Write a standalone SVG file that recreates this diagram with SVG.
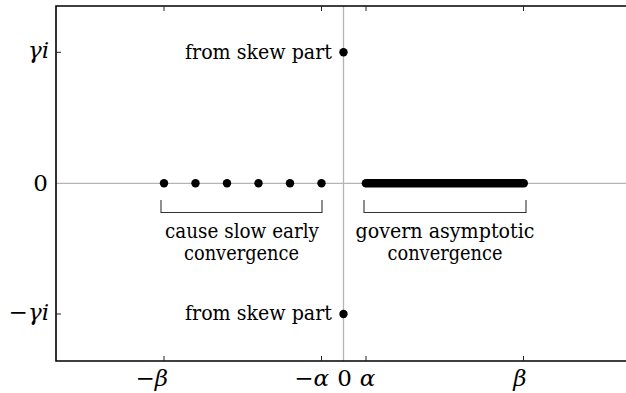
<svg xmlns="http://www.w3.org/2000/svg" width="626" height="393" viewBox="0 0 626 393">
<style>
text{font-family:'DejaVu Serif',serif;font-size:21px;fill:#000}
.m{font-size:23px;font-style:italic}
.n{font-size:23px}
.grid{stroke:#b4b4b4;stroke-width:1.3;fill:none}
.ax{stroke:#000;stroke-width:1.6;fill:none}
.tick{stroke:#222;stroke-width:1;fill:none}
.br{stroke:#333;stroke-width:1.1;fill:none}
.dot{fill:#000}
</style>
<rect x="0" y="0" width="626" height="393" fill="#fff"/>
<g id="grid">
<line class="grid" x1="56" y1="183.3" x2="626" y2="183.3"/>
<line class="grid" x1="343.5" y1="6" x2="343.5" y2="361"/>
</g>
<g id="axes">
<path class="ax" d="M626,6 H56 V361 H626"/>
<path class="tick" d="M164,361 v-5 M321.5,361 v-5 M366,361 v-5 M523.5,361 v-5 M164,6 v5 M321.5,6 v5 M366,6 v5 M523.5,6 v5 M56,52.3 h5 M56,314 h5"/>
</g>
<g id="ylabels">
<text class="m" x="49" y="57.5" text-anchor="end">γi</text>
<text class="n" x="48" y="191" text-anchor="end">0</text>
<text class="m" x="49" y="319.5" text-anchor="end"><tspan font-style="normal">−</tspan>γi</text>
</g>
<g id="xlabels">
<text class="m" x="168" y="385.5" text-anchor="end"><tspan font-style="normal">−</tspan>β</text>
<text class="m" x="329" y="385.5" text-anchor="end"><tspan font-style="normal">−</tspan>α</text>
<text class="n" x="344.5" y="385.5" text-anchor="middle">0</text>
<text class="m" x="367.5" y="385.5" text-anchor="middle">α</text>
<text class="m" x="520" y="385.5" text-anchor="middle">β</text>
</g>
<g id="skew-top">
<circle class="dot" cx="343.5" cy="52.3" r="4.2"/>
<text x="332" y="58.5" text-anchor="end" textLength="147" lengthAdjust="spacingAndGlyphs">from skew part</text>
</g>
<g id="skew-bottom">
<circle class="dot" cx="343.5" cy="314" r="4.2"/>
<text x="332" y="320" text-anchor="end" textLength="147" lengthAdjust="spacingAndGlyphs">from skew part</text>
</g>
<g id="slow-eigs">
<circle class="dot" cx="164" cy="183.3" r="4.2"/>
<circle class="dot" cx="195.5" cy="183.3" r="4.2"/>
<circle class="dot" cx="227" cy="183.3" r="4.2"/>
<circle class="dot" cx="258.5" cy="183.3" r="4.2"/>
<circle class="dot" cx="290" cy="183.3" r="4.2"/>
<circle class="dot" cx="321.5" cy="183.3" r="4.2"/>
</g>
<g id="asym-eigs">
<line x1="366" y1="183.3" x2="523.7" y2="183.3" stroke="#000" stroke-width="8.6" stroke-linecap="round"/>
</g>
<g id="connectors">
<path class="br" d="M161,200 V212.5 H322 V200"/>
<path class="br" d="M364,200 V212.5 H526 V200"/>
</g>
<g id="label-slow">
<text x="242" y="237.5" text-anchor="middle" textLength="154" lengthAdjust="spacingAndGlyphs">cause slow early</text>
<text x="241.5" y="260" text-anchor="middle" textLength="115" lengthAdjust="spacingAndGlyphs">convergence</text>
</g>
<g id="label-asym">
<text x="445" y="237.5" text-anchor="middle" textLength="179" lengthAdjust="spacingAndGlyphs">govern asymptotic</text>
<text x="445" y="260" text-anchor="middle" textLength="115" lengthAdjust="spacingAndGlyphs">convergence</text>
</g>
</svg>
